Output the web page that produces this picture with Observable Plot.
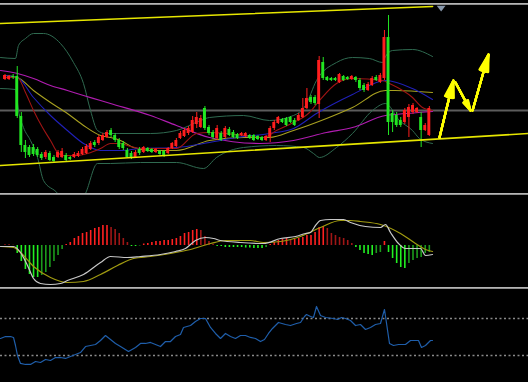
<!DOCTYPE html>
<html>
<head>
<meta charset="utf-8">
<script src="https://cdn.jsdelivr.net/npm/d3@7"></script>
<script src="https://cdn.jsdelivr.net/npm/@observablehq/plot@0.6"></script>
<style>
  html, body { margin: 0; padding: 0; background: #000; }
  #chart { position: relative; width: 528px; height: 382px; background: #000; overflow: hidden; font-family: "DejaVu Sans", sans-serif; }
  .panel { position: absolute; left: 0; }
  .sep { position: absolute; left: 0; width: 528px; height: 2px; background: #8e8e8e; border-top: 1px solid #b4b4b4; box-sizing: border-box; }
  svg { display: block; }
</style>
</head>
<body>
<div id="chart">
  <div class="sep" style="top:3px"></div>
  <div class="panel" id="p1" style="top:5px"></div>
  <div class="sep" style="top:193px"></div>
  <div class="panel" id="p2" style="top:195px"></div>
  <div class="sep" style="top:287px"></div>
  <div class="panel" id="p3" style="top:289px"></div>
</div>
<script>
// ---- candle data (one entry per trading bar) ----
const open = [
  121,121,124,124,84,55,53,53,51,46,
  43,47,43,43,43,45,43,43,44,46,
  47,51,58,57,60,63,70,65,60,57,
  50,47,43,51,48,52,51,48,49,49,
  47,52,54,62,64,67,68,76,73,92,
  73,68,62,67,63,71,68,66,65,64,
  65,65,64,63,60,63,72,77,81,82,
  83,80,80,83,92,103,103,96,138,123,
  122,122,118,124,123,121,123,120,115,110,
  115,123,118,122,163,87,85,80,78,83,
  88,88,83,70,65];
const close = [
  125,124,123,84,55,48,45,46,45,42,
  48,40,39,48,49,40,41,46,47,51,
  54,57,55,63,65,68,65,60,53,52,
  43,42,48,47,53,49,48,51,46,44,
  52,57,60,67,70,72,80,83,82,72,
  67,63,72,60,72,65,63,62,67,67,
  62,60,61,60,64,72,78,83,78,75,
  78,75,85,92,102,98,97,140,122,120,
  120,120,126,120,121,124,120,112,110,116,
  122,120,125,163,78,78,75,75,90,93,
  95,92,70,75,92];
const high = [
  126,125,126,134,88,60,55,56,53,48,
  50,49,45,50,52,47,44,48,49,53,
  56,59,60,65,67,70,72,67,62,59,
  52,49,50,53,54,53,52,52,50,50,
  53,58,62,69,72,74,84,88,85,94,
  75,70,75,69,74,73,70,67,68,68,
  66,66,65,64,65,74,80,84,82,83,
  84,82,87,102,112,105,105,144,143,124,
  123,123,127,125,124,125,124,122,117,118,
  124,125,127,170,185,90,88,83,92,96,
  97,93,88,77,94];
const low = [
  120,120,121,82,48,42,43,44,43,40,
  41,39,37,42,42,39,40,42,43,45,
  46,50,53,55,59,62,63,58,51,50,
  42,41,42,45,47,48,47,47,45,43,
  46,51,53,61,63,65,67,72,72,70,
  65,61,60,59,62,64,62,61,64,63,
  61,59,60,59,59,58,70,76,77,74,
  77,74,79,82,91,96,95,82,120,119,
  119,119,117,119,120,120,118,110,108,109,
  114,119,117,120,65,68,73,73,76,63,
  86,87,53,69,64];

// ---- overlay lines: [bar index, value] ----
const ma5 = [[0,123],[3.06,123],[5.02,108],[6.99,90],[9.19,73],[11.15,60],[12.87,48],[14.34,45],[17.77,45],[20.22,47],[23.41,52],[25.86,57],[28.31,57],[30.76,54],[33.21,52],[42.03,52],[46.94,67],[50.12,68],[54.29,67],[58.46,65],[63.36,63],[66.54,70],[70.71,78],[74.63,88],[77.08,100],[81.25,117],[85.17,122],[92.52,120],[94.24,117],[99.88,103],[102.33,93],[104.78,90]];
const ma10 = [[0,125],[3.06,123],[6.99,103],[11.15,85],[15.3,70],[19.24,57],[23.41,50],[28.31,50],[33.21,52],[42.03,53],[50.12,58],[56.74,63],[64.83,67],[70.71,72],[76.35,87],[85.17,106],[93.26,120],[99.88,112],[104.78,101]];
const ma20 = [[0,125],[3.06,123],[6.99,110],[11.15,98],[15.3,87],[19.24,75],[23.41,65],[25.86,63],[28.31,60],[31.5,53],[35.66,50],[42.03,50],[50.12,60],[58.46,63],[64.83,63],[70.71,70],[78.8,82],[85.17,93],[93.26,110],[95.71,110],[104.78,108]];
const ma60 = [[-1.1,130],[3.06,127],[6.99,122],[11.15,115],[15.3,110],[19.24,105],[23.41,100],[25.86,97],[35.66,85],[42.03,75],[50.12,63],[62.38,57],[70.71,60],[78.8,68],[85.17,73],[93.26,85],[95.71,86],[104.78,89]];
const bandUpper = [[-1.1,143],[2.57,142],[3.31,155],[5.02,162],[6.99,167],[9.44,167],[13.6,157],[16.79,138],[19.24,117],[20.96,90],[22.67,70],[24.63,67],[35.66,67],[42.03,70],[47.92,80],[50.12,83],[58.46,85],[64.83,80],[70.71,85],[73.65,95],[76.35,120],[81.25,138],[85.17,143],[89.3,142],[92.52,138],[93.26,144],[94.98,150],[99.88,151],[104.78,144]];
const bandLower = [[-1.1,112],[2.57,111],[3.31,90],[4.53,73],[6.25,60],[7.97,43],[9.44,20],[12.9,7],[16.05,-15],[19.73,7],[22.67,37],[25.86,37],[33.21,38],[42.03,38],[48.65,32],[51.84,43],[58.46,53],[66.54,55],[73.16,53],[75.61,47],[77.08,43],[81.25,53],[85.17,67],[90.07,90],[93.26,97],[96.69,80],[99.88,70],[101.59,62],[104.78,57]];
const trendTop = [[-1.1,177],[104.8,194]];
const trendBottom = [[-1.1,35],[128.3,67]];
const refPrice = 90;
const arrowSegs = [
  {x1:106.5, y1:63, x2:109.9, y2:120},
  {x1:110.4, y1:118, x2:114.1, y2:90},
  {x1:114.6, y1:90, x2:118.5, y2:146}];
const marker = [{x:106.9, y:192}];

// ---- MACD ----
const macdHist = [
  0.5,0.5,0.3,-8,-16,-24,-29,-32,-32,-30,
  -27,-22,-16,-10,-4,1,3,7,9,12,
  13,15,17,18,20,20,18,16,12,7,
  3,-1,-1,-0.5,1.5,2,3,4,4,5,
  5,6,7,9,12,13,15,16,15,9,
  4,1,-1,-1,-2,-2,-2,-2,-2,-2.5,
  -2.5,-3,-3,-3,-2,1,3,5,6,7,
  5,6,7,8,10,10,13,18,19,17,
  12,10,8,7,5,2,-2,-5,-8,-9,
  -10,-8,-7,4,-7,-13,-18,-22,-23,-18,
  -15,-13,-12,-8,-7];
const dif = [[-1.1,-1],[2.08,-1],[3.8,-7],[5.51,-20],[6.99,-33],[8.7,-38],[11.15,-39],[13.6,-38],[15.3,-35],[19.24,-29],[23.41,-17],[25.86,-11],[30.02,-12],[33.21,-11],[38.11,-9],[41.79,-6],[44.24,-3],[46.69,5],[49.14,8],[51.1,7],[52.82,5],[57.72,3],[63.36,2],[67.52,7],[71.2,9],[73.65,12],[74.88,13],[76.1,20],[77.33,25],[79.78,26],[82.97,26],[84.68,23],[88.36,19],[92.03,18],[93.26,21],[94.49,13],[96.45,2],[98.16,-3],[101.84,-3],[103.06,-10],[104.78,-9]];
const dea = [[-1.1,-1],[2.08,-2],[3.8,-7],[6.99,-21],[11.15,-32],[15.3,-37],[19.24,-36],[23.41,-29],[27.57,-20],[31.5,-13],[35.66,-11],[40.56,-8],[45.47,-4],[50.37,2],[54.04,5],[60.17,5],[63.36,3],[67.52,4],[72.43,9],[77.33,18],[82.23,25],[84.68,25],[87.13,24],[92.03,21],[96.94,12],[100.61,2],[103.06,-4],[104.78,-6]];

// ---- RSI ----
const rsi = [[-1.1,48.4],[0.12,50.5],[1.35,50.5],[2.08,49.5],[2.57,40.8],[3.06,30],[3.8,21.4],[5.02,20.3],[6.25,20.3],[7.48,23.5],[8.7,22.4],[9.93,25.7],[11.15,24.6],[12.38,27.8],[13.6,27.8],[14.83,26.8],[16.05,28.9],[17.28,31.1],[18.5,33.2],[19.73,39.7],[20.96,40.8],[22.18,41.9],[23.41,46.2],[24.63,51.6],[25.86,47.3],[27.08,43],[28.31,39.7],[30.27,34.3],[31.99,38.7],[33.21,43],[34.44,43],[35.66,44.1],[36.89,41.9],[38.11,39.7],[39.34,45.1],[40.56,45.1],[41.79,50.5],[43.01,52.7],[43.75,60.3],[45.47,62.4],[46.69,66.8],[47.92,70],[49.14,70],[50.37,60.3],[51.59,53.8],[52.82,48.4],[54.04,53.8],[55.27,50.5],[56.49,48.4],[57.72,51.6],[58.95,51.6],[60.17,49.5],[61.4,48.4],[62.62,45.1],[63.6,47.3],[64.58,53.8],[65.56,59.2],[67.03,65.7],[68.75,63.5],[69.97,62.4],[71.45,64.6],[72.43,65.7],[73.41,72.2],[73.9,74.3],[74.88,72.2],[75.61,71.1],[76.35,83],[77.33,73.2],[78.55,71.1],[80.51,70],[81.5,68.9],[82.48,71.1],[83.46,70],[84.68,67.8],[85.91,62.4],[87.13,63.5],[88.36,58.1],[89.58,60.3],[90.81,63.5],[92.03,64.6],[93.01,79.7],[94.24,43],[95.22,40.8],[96.45,41.9],[98.16,41.9],[99.39,46.2],[101.35,46.2],[102.08,38.7],[103.06,40.8],[104.29,46.2],[104.78,46.2]];
const rsiLevels = [30, 70];

// ---- build ----
const W = 528;
const xDomain = [(0 - 4.5) / 4.08, (528 - 4.5) / 4.08];
const UP = "#ff1e1e", DOWN = "#22e622";
const candles = open.map((o, i) => ({i, o, c: close[i], h: high[i], l: low[i], up: close[i] >= o}));
const base = (h, yDomain) => ({
  width: W, height: h, margin: 0, marginTop: 0, marginBottom: 0, marginLeft: 0, marginRight: 0,
  x: {domain: xDomain, axis: null}, y: {domain: yDomain, axis: null},
  style: {background: "#000", overflow: "hidden"}
});
const ln = (data, stroke, w = 1, curve = "monotone-x") =>
  Plot.line(data, {x: d => d[0], y: d => d[1], stroke, strokeWidth: w, curve, clip: true});

// downward-pointing triangle symbol for the top marker
const triangleDown = {
  draw(ctx, size) {
    const s = Math.sqrt(size);
    ctx.moveTo(-0.62 * s, -0.4 * s);
    ctx.lineTo(0.62 * s, -0.4 * s);
    ctx.lineTo(0, 0.42 * s);
    ctx.closePath();
  }
};
// filled, slender arrow heads: several arrows with narrowing head angles fill the wedge
const arrowMarks = [30, 24, 18, 12, 6, 1].map(a =>
  Plot.arrow(arrowSegs, {x1: "x1", y1: "y1", x2: "x2", y2: "y2", stroke: "#ffff00", strokeWidth: 2.2, headLength: 12, headAngle: a}));

const p1 = Plot.plot({
  ...base(188, [7, 195]),
  marks: [
    Plot.ruleY([refPrice], {stroke: "#5c5c5c", strokeWidth: 2}),
    ln(bandUpper, "#2f6a50"),
    ln(bandLower, "#2f6a50"),
    ln(ma60, "#b01cb0", 1.2),
    ln(ma20, "#a8a020", 1.1),
    ln(ma10, "#2020b8", 1.1),
    ln(ma5, "#a01414", 1.1),
    Plot.ruleX(candles, {x: "i", y1: "l", y2: "h", stroke: d => d.up ? UP : DOWN, strokeWidth: 1}),
    Plot.rect(candles, {x1: d => d.i - 0.36, x2: d => d.i + 0.36,
      y1: d => Math.min(d.o, d.c), y2: d => Math.max(d.o, d.c) + (Math.abs(d.o - d.c) < 1 ? 1 : 0),
      fill: d => d.up ? UP : DOWN}),
    ln(trendTop, "#e6e600", 1.6, "linear"),
    ln(trendBottom, "#e6e600", 1.6, "linear"),
    ...arrowMarks,
    Plot.dot(marker, {x: "x", y: "y", symbol: triangleDown, r: 4, fill: "#8797ab", stroke: "none"})
  ]
});
document.getElementById("p1").appendChild(p1);

const histData = macdHist.map((v, i) => {
  const prev = i > 0 ? macdHist[i - 1] : 0;
  let color;
  if (v >= 0) color = v >= prev ? "#ff2020" : "#a01616";
  else color = v <= prev ? "#22f022" : "#1c9c1c";
  return {i, v, color};
});
const p2 = Plot.plot({
  ...base(92, [-42, 50]),
  marks: [
    Plot.ruleX(histData, {x: "i", y1: 0, y2: "v", stroke: "color", strokeWidth: 1.6}),
    ln(dea, "#a09a10", 1.2),
    ln(dif, "#c8c8c8", 1.2)
  ]
});
document.getElementById("p2").appendChild(p2);

const p3 = Plot.plot({
  ...base(93, [0.8, 101.35]),
  marks: [
    Plot.ruleY(rsiLevels, {stroke: "#8a8a8a", strokeWidth: 1.5, strokeDasharray: "2,2.5"}),
    ln(rsi, "#1f5eaa", 1.2, "linear")
  ]
});
document.getElementById("p3").appendChild(p3);
</script>
</body>
</html>
